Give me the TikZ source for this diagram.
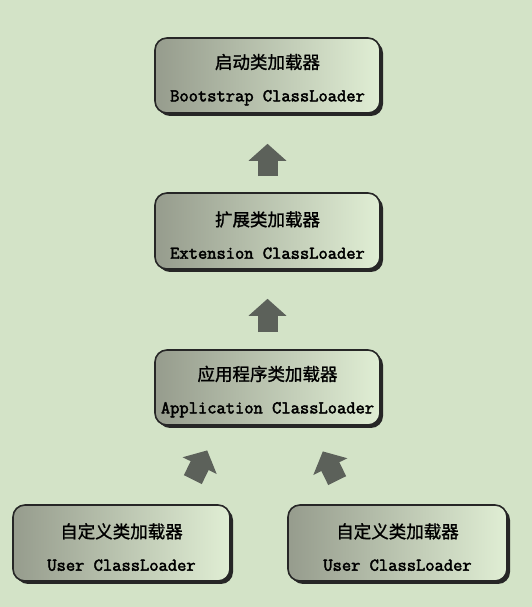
\documentclass[tikz,border=0pt]{standalone}
\usepackage{fontspec}
\newfontfamily\cjk{Noto Sans CJK SC}[FakeBold=1.2]
\newfontfamily\typewriter{Latin Modern Mono}[FakeBold=2.5]
\usetikzlibrary{arrows.meta,shadows}
\definecolor{paper}{RGB}{211,227,199}
\definecolor{boxdark}{RGB}{150,156,141}
\definecolor{boxlight}{RGB}{224,238,212}
\definecolor{arrowgray}{RGB}{92,97,90}
\newcommand{\cn}[1]{{\cjk\fontsize{17.5}{21}\selectfont\rule{0pt}{23pt}#1}}
\newcommand{\en}[1]{{\typewriter\fontsize{18}{20}\selectfont #1}}
\tikzset{
  loader/.style={draw=black!85, line width=1.6pt, rounded corners=12pt,
    left color=boxdark, right color=boxlight,
    minimum height=75pt, align=center, inner sep=0pt,
    drop shadow={shadow xshift=3pt, shadow yshift=-3pt, fill=black!85, opacity=1}},
  uparrow/.style={line width=20pt, draw=arrowgray,
    -{Triangle[width=37pt,length=17pt]}},
}
\begin{document}
\begin{tikzpicture}[x=1pt,y=1pt]
  \fill[paper] (0,0) rectangle (532,607);
  \useasboundingbox (0,0) rectangle (532,607);

  \node[loader, minimum width=225pt] (boot) at (267.5,531.5)
    {\cn{启动类加载器}\\[19pt]\en{Bootstrap ClassLoader}};
  \node[loader, minimum width=225pt, minimum height=76pt] (ext) at (267.5,376)
    {\cn{扩展类加载器}\\[19pt]\en{Extension ClassLoader}};
  \node[loader, minimum width=225pt] (app) at (267.5,219.5)
    {\cn{应用程序类加载器}\\[19pt]\en{Application ClassLoader}};
  \node[loader, minimum width=217pt, minimum height=76pt] (user1) at (121.5,64)
    {\cn{自定义类加载器}\\[19pt]\en{User ClassLoader}};
  \node[loader, minimum width=219pt, minimum height=76pt] (user2) at (397.5,64)
    {\cn{自定义类加载器}\\[19pt]\en{User ClassLoader}};

  \draw[uparrow] ([yshift=16pt]ext.north) -- ([yshift=-30pt]boot.south);
  \draw[uparrow] ([yshift=17pt]app.north) -- ([yshift=-29pt]ext.south);
  \draw[uparrow] ([shift={(71.3pt,24.6pt)}]user1.north) -- ([shift={(-60.3pt,-24.6pt)}]app.south);
  \draw[uparrow] ([shift={(-60.3pt,23.6pt)}]user2.north) -- ([shift={(55.3pt,-25.6pt)}]app.south);
\end{tikzpicture}
\end{document}
